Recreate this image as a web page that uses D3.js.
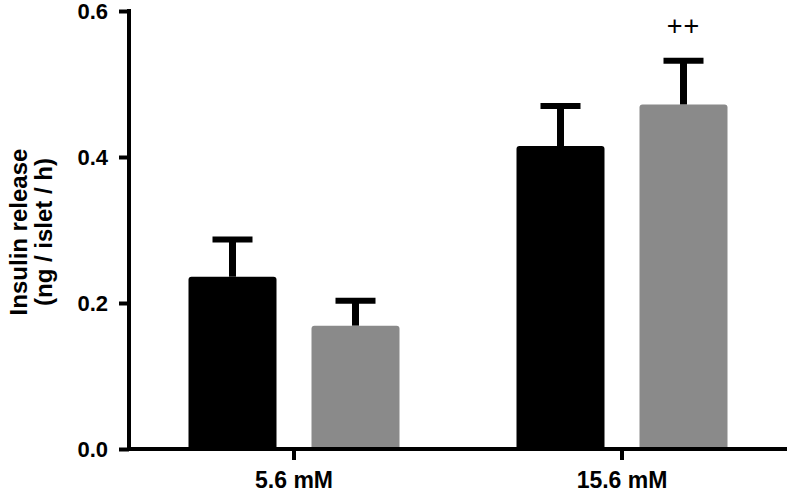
<!DOCTYPE html>
<html>
<head>
<meta charset="utf-8">
<script src="https://cdn.jsdelivr.net/npm/d3@7"></script>
<style>
  html, body { margin: 0; padding: 0; background: #fff; }
  svg { display: block; }
  text { font-family: "Liberation Sans", Arial, Helvetica, sans-serif; }
</style>
</head>
<body>
<svg id="chart" width="792" height="496"></svg>
<script>
const categories = ["5.6 mM", "15.6 mM"];
const seriesNames = ["Black", "Gray"];
const blackMeans = [0.236, 0.415];
const blackErrors = [0.051, 0.055];
const grayMeans = [0.169, 0.472];
const grayErrors = [0.034, 0.060];
const yTicks = [0.0, 0.2, 0.4, 0.6];
const annotations = [{ category: "15.6 mM", series: "Gray", text: "++" }];
const yTitleLines = ["Insulin release", "(ng / islet / h)"];

const colors = { Black: "#000000", Gray: "#8a8a8a" };

const data = [];
categories.forEach((c, i) => {
  data.push({ category: c, series: "Black", value: blackMeans[i], err: blackErrors[i] });
  data.push({ category: c, series: "Gray", value: grayMeans[i], err: grayErrors[i] });
});

const svg = d3.select("#chart");
const mLeft = 129, mRight = 787, mTop = 11, mBottom = 449;

const y = d3.scaleLinear().domain([0, 0.6]).range([mBottom, mTop]);
const x0 = d3.scaleBand().domain(categories).range([mLeft + 1, mRight - 1]).paddingInner(0).paddingOuter(0);
const x1 = d3.scaleBand().domain(seriesNames).range([-105.5, 105.5]).paddingInner(35 / 123).paddingOuter(0);

const cx = d => x0(d.category) + x0.bandwidth() / 2;

// bars with slightly rounded top corners
const r = 3;
svg.append("g").selectAll("path").data(data).join("path")
  .attr("fill", d => colors[d.series])
  .attr("d", d => {
    const xl = cx(d) + x1(d.series), xr = xl + x1.bandwidth();
    const yt = y(d.value), yb = y(0);
    return `M${xl},${yb}V${yt + r}Q${xl},${yt} ${xl + r},${yt}H${xr - r}Q${xr},${yt} ${xr},${yt + r}V${yb}Z`;
  });

// error bars (upper only)
const eg = svg.append("g").selectAll("g").data(data).join("g");
eg.append("line")
  .attr("x1", d => cx(d) + x1(d.series) + x1.bandwidth() / 2)
  .attr("x2", d => cx(d) + x1(d.series) + x1.bandwidth() / 2)
  .attr("y1", d => y(d.value))
  .attr("y2", d => y(d.value + d.err))
  .attr("stroke", "#000").attr("stroke-width", 7);
eg.append("line")
  .attr("x1", d => cx(d) + x1(d.series) + x1.bandwidth() / 2 - 20)
  .attr("x2", d => cx(d) + x1(d.series) + x1.bandwidth() / 2 + 20)
  .attr("y1", d => y(d.value + d.err))
  .attr("y2", d => y(d.value + d.err))
  .attr("stroke", "#000").attr("stroke-width", 6);

// annotations
svg.append("g").selectAll("text").data(annotations).join("text")
  .attr("x", d => cx(d) + x1(d.series) + x1.bandwidth() / 2)
  .attr("y", 35)
  .attr("text-anchor", "middle")
  .attr("font-size", 27)
  .attr("letter-spacing", 1)
  .text(d => d.text);

// y axis
const yAxis = svg.append("g").attr("transform", `translate(${mLeft},0)`)
  .call(d3.axisLeft(y).tickValues(yTicks).tickFormat(d3.format(".1f")).tickSize(10).tickPadding(11));
yAxis.select(".domain").attr("stroke-width", 4).attr("d", `M0,${mBottom + 2}V${mTop - 2}`);
yAxis.selectAll(".tick line").attr("stroke-width", 4);
yAxis.selectAll(".tick text").attr("font-size", 22).attr("font-weight", "bold")
  .attr("font-family", "Liberation Sans, Arial, sans-serif").attr("fill", "#000");

// x axis
const xAxis = svg.append("g").attr("transform", `translate(0,${mBottom})`)
  .call(d3.axisBottom(x0).tickSize(11).tickPadding(12));
xAxis.select(".domain").attr("stroke-width", 4).attr("d", `M${mLeft - 2},0H${mRight}`);
xAxis.selectAll(".tick line").attr("stroke-width", 4);
xAxis.selectAll(".tick text").attr("font-size", 23).attr("font-weight", "bold")
  .attr("font-family", "Liberation Sans, Arial, sans-serif").attr("fill", "#000");

// y title
const yTitle = svg.append("text")
  .attr("transform", `translate(0,232) rotate(-90)`)
  .attr("text-anchor", "middle")
  .attr("font-size", 24).attr("font-weight", "bold");
yTitleLines.forEach((t, i) => {
  yTitle.append("tspan").attr("x", 0).attr("y", i === 0 ? 27 : 52).text(t);
});
</script>
</body>
</html>
